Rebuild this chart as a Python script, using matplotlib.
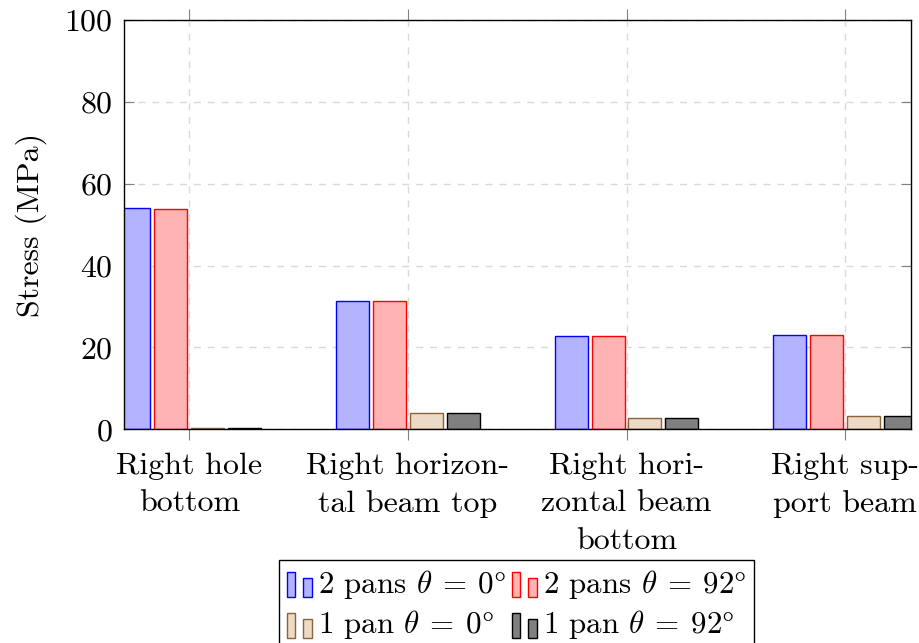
import matplotlib
matplotlib.use("Agg")
import matplotlib.pyplot as plt
import numpy as np
from matplotlib.legend_handler import HandlerBase
from matplotlib.patches import Rectangle

plt.rcParams["font.family"] = "serif"
plt.rcParams["font.serif"] = ["cmr10"]
plt.rcParams["mathtext.fontset"] = "cm"
plt.rcParams["axes.formatter.use_mathtext"] = True
plt.rcParams["font.size"] = 23

# Stress per location, one list per configuration.
locations = ["Right hole\nbottom", "Right horizon-\ntal beam top",
             "Right hori-\nzontal beam\nbottom", "Right sup-\nport beam"]
two_pans_0 = [54.0, 31.4, 22.8, 23.1]
two_pans_92 = [53.9, 31.3, 22.8, 23.0]
one_pan_0 = [0.4, 3.9, 2.7, 3.2]
one_pan_92 = [0.4, 4.0, 2.7, 3.3]
labels = [r"2 pans $\theta\:=\:0\degree$", r"2 pans $\theta\:=\:92\degree$",
          r"1 pan $\theta\:=\:0\degree$", r"1 pan $\theta\:=\:92\degree$"]

faces = ["#b3b3ff", "#ffb3b3", "#ecd9c6", "#808080"]
edges = ["#0000ff", "#ff0000", "#8c6239", "#000000"]


class TwoBarHandler(HandlerBase):
    # pgfplots-style bar legend: two little bars side by side
    def create_artists(self, legend, orig, xd, yd, w, h, fs, trans):
        fc = orig.get_facecolor()
        ec = orig.get_edgecolor()
        r1 = Rectangle((xd, yd - 0.2 * h), 0.33 * w, 1.15 * h,
                       facecolor=fc, edgecolor=ec, lw=1.0, transform=trans)
        r2 = Rectangle((xd + 0.66 * w, yd - 0.2 * h), 0.34 * w, 0.88 * h,
                       facecolor=fc, edgecolor=ec, lw=1.0, transform=trans)
        return [r1, r2]


fig = plt.figure(figsize=(9.2, 6.43), dpi=100)
ax = fig.add_axes([123.7 / 920, 1 - 429.3 / 643,
                   (910.7 - 123.7) / 920, (429.3 - 20) / 643])

x = np.arange(len(locations))
width = 0.151
step = 0.169
series = [two_pans_0, two_pans_92, one_pan_0, one_pan_92]
bars = []
for i, vals in enumerate(series):
    b = ax.bar(x + (i - 1.5) * step, vals, width, color=faces[i],
               edgecolor=edges[i], linewidth=1.0, label=labels[i], zorder=3)
    bars.append(b)

ax.set_xlim(-0.3, 3.3)
ax.set_ylim(0, 100)
ax.set_yticks([0, 20, 40, 60, 80, 100])
ax.set_xticks(x)
ax.set_xticklabels(locations, linespacing=1.45)
ax.set_ylabel("Stress (MPa)", labelpad=12)

ax.grid(True, color="#d9d9d9", linestyle=(0, (5, 5)), linewidth=1.0, zorder=0)
ax.tick_params(axis="x", direction="out", length=8, color="#808080",
               top=True, pad=9)
ax.tick_params(axis="y", direction="in", length=7, color="#808080",
               right=True, pad=8)
for s in ax.spines.values():
    s.set_linewidth(1.0)
    s.set_zorder(4)

handles = [bars[0], bars[2], bars[1], bars[3]]
hlabels = [labels[0], labels[2], labels[1], labels[3]]
fig.legend([h.patches[0] for h in handles], hlabels, ncol=2,
           loc="upper center", bbox_to_anchor=(516.5 / 920, 1 - 560 / 643),
           handler_map={Rectangle: TwoBarHandler()},
           frameon=True, fancybox=False, edgecolor="black", framealpha=1,
           handlelength=0.8, handletextpad=0.2, columnspacing=0.2,
           labelspacing=0.25, borderpad=0.25, borderaxespad=0, fontsize=22.3)

fig.savefig("out.png", dpi=100)
